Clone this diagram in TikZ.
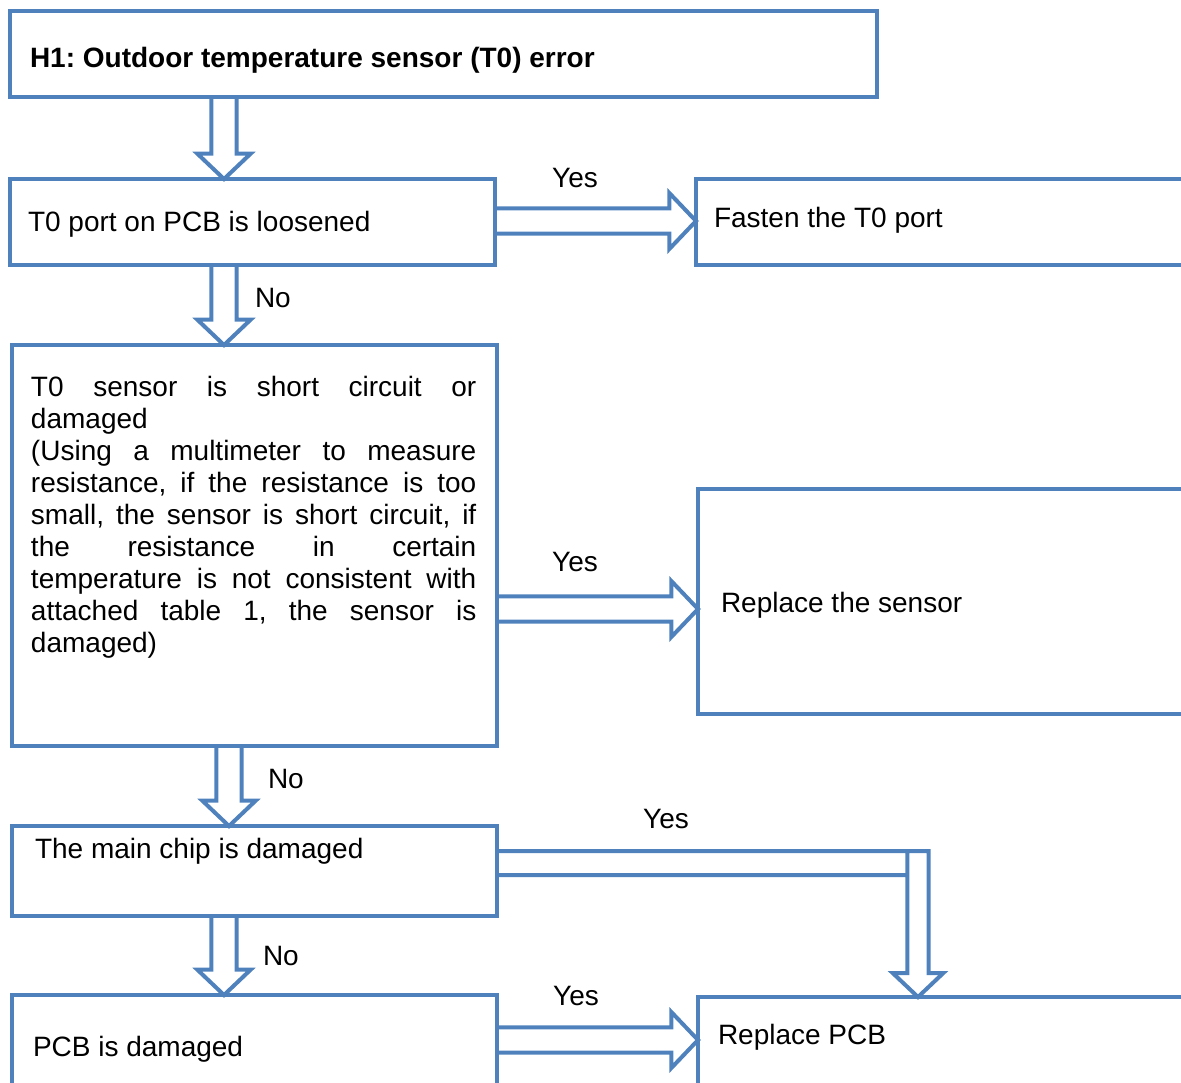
\documentclass[tikz,border=0pt]{standalone}
\usepackage{fontspec}
\setmainfont{Liberation Sans}
\usetikzlibrary{calc,fit}
\definecolor{bl}{HTML}{4F81BD}
\frenchspacing
\begin{document}
\begin{tikzpicture}[x=0.75pt,y=-0.75pt,
  box/.style={draw=bl, line width=3pt, inner sep=0pt, outer sep=0pt, rectangle},
  txt/.style={inner sep=0pt, outer sep=0pt, font=\fontsize{21}{24}\selectfont\frenchspacing, text=black},
  harrow/.style={draw=bl, line width=3pt, line join=miter},
  hollow down/.style={harrow, to path={let \p1=(\tikztostart), \p2=(\tikztotarget) in
    (\x1-9.5pt,\y1) -- (\x1-9.5pt,\y2+19pt) -- (\x1-20pt,\y2+19pt) -- (\x1,\y2)
    -- (\x1+20pt,\y2+19pt) -- (\x1+9.5pt,\y2+19pt) -- (\x1+9.5pt,\y1)}},
  hollow right/.style={harrow, to path={let \p1=(\tikztostart), \p2=(\tikztotarget) in
    (\x1,\y1+9.5pt) -- (\x2-20pt,\y1+9.5pt) -- (\x2-20pt,\y1+21pt) -- (\x2,\y1)
    -- (\x2-20pt,\y1-21pt) -- (\x2-20pt,\y1-9.5pt) -- (\x1,\y1-9.5pt)}}
]
\useasboundingbox (0,0) rectangle (1181,1082);
\clip (0,0) rectangle (1181,1082);

% boxes
\node[box, fit={(10,11) (877,97)}] (top) {};
\node[box, fit={(10,179) (495,265)}] (port) {};
\node[box, fit={(696,179) (1195,265)}] (fasten) {};
\node[box, fit={(12,345) (497,746)}] (sensor) {};
\node[box, fit={(698,489) (1195,714)}] (replsensor) {};
\node[box, fit={(12,826) (497,916)}] (chip) {};
\node[box, fit={(12,995) (497,1110)}] (pcb) {};
\node[box, fit={(698,997) (1195,1110)}] (replpcb) {};

% texts
\node[txt, font=\fontsize{21}{24}\selectfont\bfseries\frenchspacing, anchor=base west] (toptxt) at (30,67) {H1: Outdoor temperature sensor (T0) error};
\node[txt, anchor=base west] (porttxt) at (28,231) {T0 port on PCB is loosened};
\node[txt, anchor=base west] (fastentxt) at (714,227) {Fasten the T0 port};
\node[txt, anchor=base west, text width=334pt, align=justify] (sensortxt) at (31,396)
  {\tolerance=10000\hyphenpenalty=10000 T0 sensor is short circuit or\linebreak damaged\newline
   (Using a multimeter to measure\linebreak resistance, if the resistance is too\linebreak
   small, the sensor is short circuit, if\linebreak the resistance in certain\linebreak
   temperature is not consistent with\linebreak attached table 1, the sensor is\linebreak damaged)};
\node[txt, anchor=base west] (replsensortxt) at (721,612) {Replace the sensor};
\node[txt, anchor=base west] (chiptxt) at (35,858) {The main chip is damaged};
\node[txt, anchor=base west] (pcbtxt) at (33,1056) {PCB is damaged};
\node[txt, anchor=base west] (replpcbtxt) at (718,1044) {Replace PCB};

% axes for arrows
\coordinate (ax1) at (224,0);
\coordinate (ax3) at (229,0);
\coordinate (yA) at (0,221);
\coordinate (yB) at (0,609);
\coordinate (yC) at (0,1040);
\coordinate (yL) at (0,863);
\coordinate (xL) at (918,0);

% down arrows
\draw[hollow down] (top.south -| ax1) to (port.north -| ax1);
\draw[hollow down] (port.south -| ax1) to (sensor.north -| ax1);
\draw[hollow down] (sensor.south -| ax3) to (chip.north -| ax3);
\draw[hollow down] (chip.south -| ax1) to (pcb.north -| ax1);

% right arrows
\draw[hollow right] (port.east |- yA) to (fasten.west |- yA);
\draw[hollow right] (sensor.east |- yB) to (replsensor.west |- yB);
\draw[hollow right] (pcb.east |- yC) to (replpcb.west |- yC);

% L-shaped arrow
\draw[harrow] let \p1=(chip.east |- yL), \p2=(replpcb.north -| xL) in
  (\x1,\y1+9pt) -- (\x2+8pt,\y1+9pt) -- (\x2+8pt,\y2+18pt) -- (\x2+19pt,\y2+18pt)
  -- (\x2,\y2) -- (\x2-19pt,\y2+18pt) -- (\x2-8pt,\y2+18pt) -- (\x2-8pt,\y1+9pt)
  (\x1,\y1-9pt) -- (\x2-8pt,\y1-9pt);

% labels
\node[txt, anchor=base] (yes1) at (575,187) {Yes};
\node[txt, anchor=base west] (no1) at (255,307) {No};
\node[txt, anchor=base] (yes2) at (575,571) {Yes};
\node[txt, anchor=base west] (no2) at (268,788) {No};
\node[txt, anchor=base] (yes3) at (666,828) {Yes};
\node[txt, anchor=base west] (no3) at (263,965) {No};
\node[txt, anchor=base] (yes4) at (576,1005) {Yes};
\end{tikzpicture}
\end{document}
